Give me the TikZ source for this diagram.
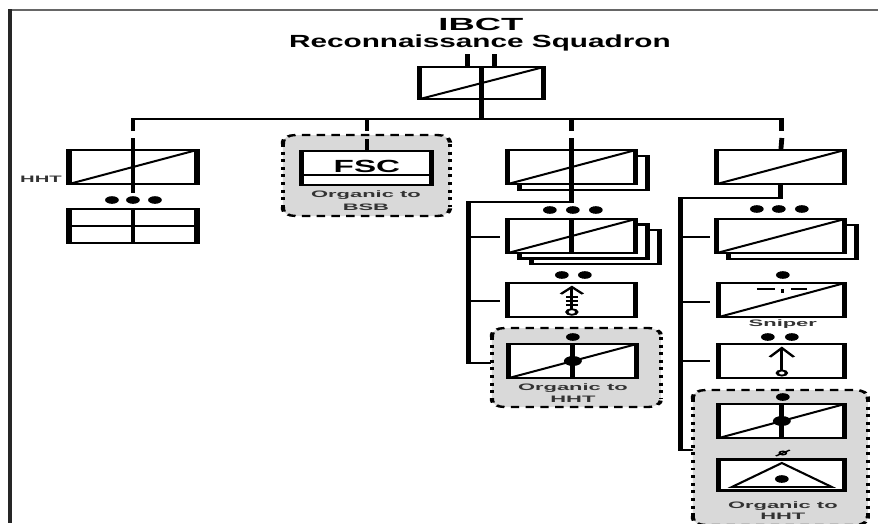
\documentclass[tikz,border=0pt]{standalone}
\usepackage{graphicx}
\usepackage{fontspec}
\setmainfont{Liberation Sans}
\newcommand\widetxt[1]{\scalebox{1.3}[1]{#1}}
\newcommand\orgbox[4]{%
  \fill[black!15, rounded corners=6pt] (#1,#2) rectangle (#3,#4);
  \draw[hdash] (#1,#2+9) -- (#1,#2) -- (#3,#2) -- (#3,#2+9);
  \draw[hdash] (#1,#4-9) -- (#1,#4) -- (#3,#4) -- (#3,#4-9);
  \draw[vdot] (#1,#2+9) -- (#1,#4-9);
  \draw[vdot] (#3,#2+9) -- (#3,#4-9);
}
\tikzset{
  unitbox/.style={draw, line width=2.4pt, fill=white, inner sep=0pt, outer sep=0pt,
    minimum width=2.1333cm, minimum height=1.02cm},
  conn/.style={line width=2.3pt},
  diagline/.style={line width=1.6pt},
  symline/.style={line width=1.5pt},
  echdot/.style={circle, fill=black, inner sep=0pt, minimum size=6.5pt},
  bigdot/.style={circle, fill=black, inner sep=0pt, minimum size=8.5pt},
  hdash/.style={line width=2pt, dash pattern=on 4pt off 3pt, rounded corners=6pt},
  vdot/.style={line width=2pt, dash pattern=on 2.5pt off 4pt},
  smalltxt/.style={font=\fontsize{8}{9}\selectfont\bfseries, text=black!80, inner sep=0pt},
  titletxt/.style={font=\fontsize{15}{17}\selectfont\bfseries, inner sep=0pt},
}
\begin{document}
\begin{tikzpicture}[x=0.03cm,y=-0.03cm]
\useasboundingbox (0,0) rectangle (878,523);
\begin{scope}[transform canvas={xscale=1.8}, x=0.0166667cm, y=-0.03cm]
% frame
\draw[line width=2pt, black!60] (9,10) -- (878,10);
\draw[line width=2pt, black!85] (10,9) -- (10,523);

% title
\node[titletxt] (ttl1) at (481,24) {\scalebox{1.15}[1]{IBCT}};
\node[titletxt] (ttl2) at (480,43) {\scalebox{0.94}[1]{Reconnaissance Squadron}};

% squadron HQ
\node[unitbox, minimum width=2.0667cm, minimum height=0.96cm] (sqn) at (482,83) {};
\draw[diagline] (sqn.south west) -- (sqn.north east);
\draw[conn] (sqn.north) -- (sqn.south);
\draw[conn] (468,67) -- (468,54);
\draw[conn] (495,67) -- (495,54);

% bar
\coordinate (barL) at (133,119);
\coordinate (barR) at (782,119);
\draw[conn] (sqn.south) -- (sqn.south |- barL);
\draw[conn] (133,131) -- (barL) -- (barR) -- (782,131);
\draw[conn] (367,119) -- (367,131);
\draw[conn] (572,119) -- (572,131);

% column 1 : HHT
\node[unitbox] (hht) at (133,167) {};
\draw[diagline] (hht.south west) -- (hht.north east);
\draw[conn] (133,138) -- (hht.north);
\draw[conn] (hht.north) -- (133,193);
\node[smalltxt] (hhtlbl) at (41,179) {\scalebox{1.2}[1]{HHT}};
\node[echdot] (d1a) at (112,200) {};
\node[echdot] (d1b) at (133,200) {};
\node[echdot] (d1c) at (155,200) {};
\node[unitbox] (hhtco) at (133,226) {};
\draw[conn] (hhtco.north) -- (hhtco.south);
\draw[conn] (hhtco.west) -- (hhtco.east);

% column 2 : FSC
\orgbox{283}{135}{450}{216}
\node[unitbox, minimum width=2.1667cm] (fsc) at (367,168) {};
\coordinate (fscband) at (367,175);
\draw[conn] (fsc.west |- fscband) -- (fsc.east |- fscband);
\draw[conn] (367,139) -- (fsc.north);
\node[font=\fontsize{15}{17}\selectfont\bfseries, inner sep=0pt] (fsclbl) at (367,166.5) {\scalebox{1.05}[1]{FSC}};
\node[smalltxt] (fscorg1) at (366,195.5) {\widetxt{Organic to}};
\node[smalltxt] (fscorg2) at (366,207) {\widetxt{BSB}};

% column 3
\node[unitbox] (trp3s) at (584,173) {};
\node[unitbox] (trp3) at (572,167) {};
\draw[diagline] (trp3.south west) -- (trp3.north east);
\draw[conn] (572,138) -- (trp3.north);
\draw[conn] (trp3.north) -- (trp3.south);
\coordinate (c3turn) at (572,202);
\coordinate (c3corner) at (469,202);
\coordinate (c3end) at (469,363);
\draw[conn] (trp3.south) -- (c3turn) -- (c3corner) -- (c3end) -- (491,363);
\node[echdot] (d3a) at (550,210) {};
\node[echdot] (d3b) at (573,210) {};
\node[echdot] (d3c) at (596,210) {};
\node[unitbox] (plt3b) at (596,247) {};
\node[unitbox] (plt3a) at (584,241.5) {};
\node[unitbox] (plt3) at (572,236) {};
\draw[diagline] (plt3.south west) -- (plt3.north east);
\draw[conn] (plt3.north) -- (plt3.south);
\draw[conn] (469,237) -- (500,237);
\node[echdot] (d3d) at (562,275) {};
\node[echdot] (d3e) at (585,275) {};
\node[unitbox] (mtr3) at (572,300) {};
\draw[conn] (469,301) -- (500,301);
\draw[symline] (572,287) -- (572,309);
\draw[symline] (561,294) -- (572,287) -- (583,294);
\draw[symline] (566,297) -- (578,297);
\draw[symline] (566,301) -- (578,301);
\draw[symline] (566,305) -- (578,305);
\draw[symline, fill=white] (572,312) circle (2.4pt);
\orgbox{492}{328}{661}{407}
\node[echdot] (d3f) at (573,337) {};
\node[unitbox] (hhtd3) at (573,361) {};
\draw[diagline] (hhtd3.south west) -- (hhtd3.north east);
\draw[conn] (hhtd3.north) -- (hhtd3.south);
\node[bigdot] (bd3) at (hhtd3.center) {};
\node[smalltxt] (org3a) at (573,388) {\widetxt{Organic to}};
\node[smalltxt] (org3b) at (573,399) {\widetxt{HHT}};

% column 4
\node[unitbox] (trp4) at (781,167) {};
\draw[diagline] (trp4.south west) -- (trp4.north east);
\draw[conn] (782,138) -- (trp4.north);
\coordinate (c4turn) at (781,198);
\coordinate (c4corner) at (681,198);
\coordinate (c4end) at (681,450);
\draw[conn] (trp4.south) -- (c4turn) -- (c4corner) -- (c4end) -- (710,450);
\node[echdot] (d4a) at (757,209) {};
\node[echdot] (d4b) at (779,209) {};
\node[echdot] (d4c) at (802,209) {};
\node[unitbox] (plt4s) at (793,242) {};
\node[unitbox] (plt4) at (781,236) {};
\draw[diagline] (plt4.south west) -- (plt4.north east);
\draw[conn] (681,237) -- (710,237);
\node[echdot] (d4d) at (783,275) {};
\node[unitbox, minimum width=2.1cm] (snp4) at (782,300) {};
\draw[diagline] (snp4.south west) -- (snp4.north east);
\draw[conn] (681,302) -- (710,302);
\draw[symline] (757,289) -- (775,289);
\draw[symline] (791,289) -- (807,289);
\draw[symline] (783,289) -- (783,293);
\node[smalltxt] (snplbl) at (783,324) {\widetxt{Sniper}};
\node[echdot] (d4e) at (768,337) {};
\node[echdot] (d4f) at (792,337) {};
\node[unitbox, minimum width=2.1cm] (mtr4) at (782,361) {};
\draw[conn] (681,361) -- (710,361);
\draw[symline] (782,348) -- (782,370);
\draw[symline] (770,357) -- (782,348) -- (794,357);
\draw[symline, fill=white] (782,373) circle (2.2pt);
\orgbox{693}{390}{868}{525}
\node[echdot] (d4g) at (783,397) {};
\node[unitbox, minimum width=2.1cm] (hhte1) at (782,421) {};
\draw[diagline] (hhte1.south west) -- (hhte1.north east);
\draw[conn] (hhte1.north) -- (hhte1.south);
\node[bigdot] (bd4) at (hhte1.center) {};
\draw[line width=1pt] (783,453) circle (1.6pt);
\draw[line width=1pt] (776,456) -- (790,450);
\node[unitbox, minimum width=2.1cm, minimum height=0.93cm] (hhte2) at (782,475) {};
\draw[symline] (732,487) -- (782,463) -- (832,487) -- cycle;
\node[echdot] (d4h) at (782,479) {};
\node[smalltxt] (org4a) at (783,506) {\widetxt{Organic to}};
\node[smalltxt] (org4b) at (783,516) {\widetxt{HHT}};
\end{scope}
\end{tikzpicture}
\end{document}
